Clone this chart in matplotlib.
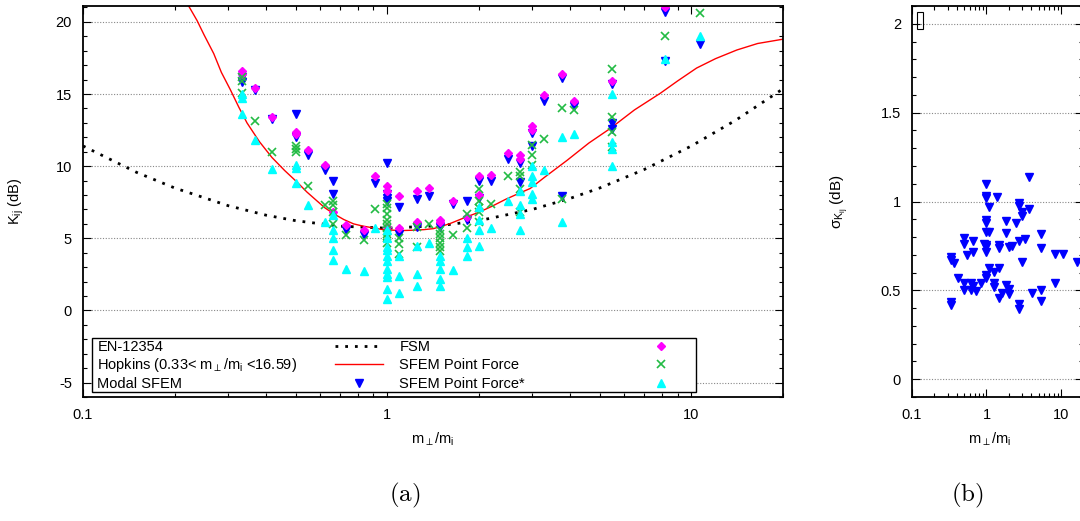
import matplotlib
matplotlib.use("Agg")
import matplotlib.pyplot as plt
from matplotlib.ticker import MultipleLocator, LogLocator, NullFormatter, FixedLocator
from matplotlib.patches import Rectangle

plt.rcParams['font.family'] = ['Liberation Sans', 'DejaVu Sans']
plt.rcParams['mathtext.fontset'] = 'custom'
plt.rcParams['mathtext.rm'] = 'Liberation Sans'
plt.rcParams['mathtext.it'] = 'Liberation Sans'
plt.rcParams['mathtext.bf'] = 'Liberation Sans:bold'
plt.rcParams['axes.unicode_minus'] = False

# ---- data ----
# EN-12354 curve (m_perp/m_i, K_ij dB)
en_x = [0.1, 0.15, 0.2, 0.3, 0.4, 0.5, 0.7, 1.0, 1.5, 2.0, 3.0, 4.0, 5.0, 7.0, 10.0, 14.0, 20.0]
en_k = [11.4, 9.57, 8.49, 7.26, 6.60, 6.22, 5.84, 5.70, 5.88, 6.22, 7.00, 7.77, 8.49, 9.77, 11.4, 13.19, 15.36]

# Hopkins curve
hop_x = [0.2225, 0.237, 0.25, 0.269, 0.285, 0.305, 0.325, 0.346, 0.38, 0.418, 0.46, 0.505,
         0.545, 0.587, 0.625, 0.667, 0.72, 0.775, 0.83, 0.90, 0.97, 1.05, 1.13, 1.22, 1.32,
         1.42, 1.6, 1.83, 2.0, 2.2, 2.45, 2.7, 2.95, 3.3, 3.9, 4.6, 5.4, 6.5, 7.9, 9.0,
         10.4, 12.0, 14.1, 16.5, 20.0]
hop_k = [21.1, 20.1, 19.1, 17.8, 16.5, 15.3, 14.1, 13.0, 11.7, 10.6, 9.7, 8.9,
         8.2, 7.6, 7.1, 6.7, 6.3, 6.0, 5.85, 5.72, 5.6, 5.56, 5.54, 5.56, 5.6,
         5.67, 6.0, 6.5, 6.8, 7.2, 7.7, 8.1, 8.45, 9.25, 10.4, 11.6, 12.6, 13.9, 15.05, 15.9,
         16.8, 17.45, 18.05, 18.5, 18.8]

# scatter series: mass ratio -> K_ij values (dB)
modal = {0.333: [16.2, 15.8], 0.367: [15.3], 0.418: [13.3], 0.5: [13.6, 12.0], 0.55: [10.8],
         0.626: [9.7], 0.663: [9.0, 8.1], 0.732: [5.6], 0.836: [5.2], 0.913: [8.8],
         1.0: [10.2, 8.1, 7.8, 7.6], 1.097: [7.2, 5.3], 1.25: [7.7, 5.8], 1.37: [7.9],
         1.49: [5.8], 1.64: [7.4], 1.83: [7.6, 6.3], 2.0: [9.0, 7.8], 2.2: [9.0], 2.5: [10.5],
         2.73: [10.2, 8.9], 3.0: [12.3, 11.4], 3.28: [14.5], 3.75: [16.1, 7.9], 4.11: [14.2],
         5.47: [15.7, 13.0, 12.6], 8.2: [20.7, 17.3], 10.7: [18.5]}

fsm = {0.333: [16.6, 16.4], 0.367: [15.4], 0.418: [13.4], 0.5: [12.4, 12.2], 0.55: [11.1],
       0.626: [10.1], 0.663: [6.8], 0.732: [5.9], 0.836: [5.6], 0.913: [9.3],
       1.0: [8.6, 8.3, 5.8], 1.097: [7.9, 5.7], 1.25: [8.3, 6.1], 1.37: [8.5], 1.49: [6.3, 6.1],
       1.64: [7.6], 1.83: [6.5], 2.0: [9.3, 8.0], 2.2: [9.4], 2.5: [10.9], 2.73: [10.8, 10.5],
       3.0: [12.8, 12.5], 3.28: [14.9], 3.75: [16.4], 4.11: [14.5], 5.47: [15.9], 8.2: [21.0]}

sfem_pf = {0.333: [16.2, 15.9, 15.1], 0.367: [13.1], 0.418: [11.0], 0.5: [11.4, 11.2, 11.0],
           0.55: [8.6], 0.626: [7.3], 0.663: [7.6, 7.3, 6.8, 6.0], 0.732: [5.2], 0.836: [4.9],
           0.913: [7.0], 1.0: [7.4, 7.1, 6.7, 6.3, 6.0, 5.7, 5.3, 5.0, 4.7],
           1.097: [5.0, 4.6, 3.9], 1.25: [5.8, 4.4], 1.37: [6.0],
           1.49: [5.6, 5.3, 5.0, 4.7, 4.4, 4.1], 1.64: [5.2], 1.83: [6.7, 5.7],
           2.0: [8.4, 7.6, 7.1, 6.8, 6.1], 2.2: [7.4], 2.5: [9.3], 2.73: [9.6, 9.3, 8.4, 6.8],
           3.0: [11.5, 10.8, 10.1], 3.28: [11.9], 3.75: [14.0, 7.7], 4.11: [13.9],
           5.47: [16.7, 13.4, 12.4, 11.3], 8.2: [19.0], 10.7: [20.6]}

sfem_pf_star = {0.333: [15.0, 14.7, 13.6], 0.367: [11.8], 0.418: [9.8], 0.5: [10.1, 9.9, 8.8],
                0.55: [7.3], 0.626: [6.1], 0.663: [6.6, 5.6, 5.0, 4.2, 3.5], 0.732: [2.9],
                0.836: [2.7], 0.913: [5.7],
                1.0: [5.6, 5.0, 4.4, 4.2, 3.8, 3.4, 2.9, 2.5, 2.3, 1.5, 0.8],
                1.097: [3.8, 2.4, 1.2], 1.25: [4.5, 2.5, 1.7], 1.37: [4.7],
                1.49: [3.8, 3.4, 2.9, 2.2, 1.7], 1.64: [2.8], 1.83: [5.0, 4.4, 3.8],
                2.0: [7.2, 6.3, 5.6, 4.5], 2.2: [5.7], 2.5: [7.6], 2.73: [8.3, 7.3, 6.7, 5.6],
                3.0: [10.0, 9.3, 8.9, 8.1, 7.7], 3.28: [9.7], 3.75: [12.0, 6.1], 4.11: [12.2],
                5.47: [15.0, 11.7, 11.2, 10.0], 8.2: [17.4], 10.7: [19.0]}

# standard deviation of K_ij, Modal SFEM (panel b)
sigma = {0.333: [0.69, 0.67, 0.435, 0.417], 0.367: [0.652], 0.418: [0.567],
         0.5: [0.796, 0.762, 0.539, 0.501], 0.55: [0.70], 0.626: [0.50, 0.539],
         0.663: [0.779, 0.717, 0.524], 0.732: [0.496], 0.836: [0.543], 0.913: [0.76],
         1.0: [1.099, 1.031, 1.018, 0.896, 0.877, 0.83, 0.755, 0.742, 0.717, 0.586, 0.567],
         1.097: [0.967, 0.83, 0.624], 1.25: [0.605, 0.539, 0.517], 1.37: [1.027],
         1.49: [0.755, 0.74, 0.624, 0.455], 1.64: [0.483], 1.83: [0.89, 0.824, 0.53],
         2.0: [0.742, 0.505, 0.479], 2.2: [0.749], 2.5: [0.877],
         2.73: [0.99, 0.976, 0.779, 0.426, 0.393], 3.0: [0.94, 0.92, 0.657], 3.28: [0.787],
         3.75: [1.136, 0.96], 4.11: [0.486], 5.47: [0.817, 0.736, 0.501, 0.441],
         8.2: [0.704, 0.539], 10.7: [0.704], 16.6: [0.661]}

x_ticks = [0.1, 1, 10]
x_ticklabels = ['0.1', '1', '10']
k_ticks = [-5, 0, 5, 10, 15, 20]
s_ticks = [0, 0.5, 1, 1.5, 2]
s_ticklabels = ['0', '0.5', '1', '1.5', '2']

labels = ['EN-12354', r'Hopkins (0.33< m$_{\perp}$/m$_{\rm i}$ <16.59)', 'Modal SFEM',
          'FSM', 'SFEM Point Force', 'SFEM Point Force*']


def flat(d):
    xs, ys = [], []
    for x, vals in d.items():
        xs += [x] * len(vals)
        ys += vals
    return xs, ys


c_blue = '#0000ff'
c_mag = '#ff00ff'
c_green = '#22bb44'
c_cyan = '#00ffff'
c_red = '#ff0000'

fig = plt.figure(figsize=(10.8, 5.21), dpi=100)
ax = fig.add_axes([83 / 1080, 1 - 397 / 521, 700 / 1080, 391 / 521])
ax2 = fig.add_axes([912 / 1080, 1 - 397 / 521, 171.4 / 1080, 391 / 521])


def style(a):
    a.set_xscale('log')
    a.set_xlim(0.1, 20)
    a.xaxis.set_major_locator(FixedLocator(x_ticks))
    a.set_xticklabels(x_ticklabels)
    a.xaxis.set_minor_locator(LogLocator(subs=range(2, 10)))
    a.xaxis.set_minor_formatter(NullFormatter())
    a.tick_params(which='both', direction='in', top=True, right=True, labelsize=10.5, pad=8)
    a.tick_params(which='major', length=6, width=0.8)
    a.tick_params(which='minor', length=3, width=0.8)
    a.yaxis.grid(True, which='major', linestyle=(0, (1, 1.5)), color='#888888', lw=0.8)
    a.set_axisbelow(True)
    for s in a.spines.values():
        s.set_linewidth(1.3)


# ---- panel (a) ----
style(ax)
ax.set_ylim(-6, 21.1)
ax.set_yticks(k_ticks)
ax.yaxis.set_minor_locator(MultipleLocator(1))

ax.plot(en_x, en_k, color='black', linestyle=(0, (1, 2.5)), lw=2)
ax.plot(hop_x, hop_k, color=c_red, lw=1)
mx, my = flat(modal)
ax.plot(mx, my, 'v', color=c_blue, ms=5.5, ls='none')
fx, fy = flat(fsm)
ax.plot(fx, fy, 'D', color=c_mag, ms=4, ls='none')
px, py = flat(sfem_pf)
ax.plot(px, py, 'x', color=c_green, ms=6, mew=1.2, ls='none')
sx, sy = flat(sfem_pf_star)
ax.plot(sx, sy, '^', color=c_cyan, ms=5.5, ls='none')

ax.set_xlabel(r'm$_{\perp}$/m$_{\rm i}$', fontsize=10.5)
ax.xaxis.set_label_coords(0.5, -0.085)
ax.set_ylabel(r'K$_{\rm ij}$ (dB)', fontsize=10.5)
ax.yaxis.set_label_coords(-0.081, 0.5)

# gnuplot-style key: text left, sample right
tr = ax.transAxes
ax.add_patch(Rectangle((0.0133, 0.0136), 0.8617, 0.1364, transform=tr,
                       facecolor='white', edgecolor='black', lw=1, zorder=5))
rows_txt = [0.1176, 0.0708, 0.0240]
rows_mid = [0.1304, 0.0836, 0.0368]
for i in range(3):
    ax.text(0.0204, rows_txt[i], labels[i], transform=tr, fontsize=10.5, zorder=6)
    ax.text(0.4519, rows_txt[i], labels[i + 3], transform=tr, fontsize=10.5, zorder=6)
ax.plot([0.36, 0.4286], [rows_mid[0]] * 2, transform=tr, color='black',
        linestyle=(0, (1, 2.5)), lw=2, zorder=6, clip_on=False)
ax.plot([0.36, 0.4286], [rows_mid[1]] * 2, transform=tr, color=c_red, lw=1, zorder=6)
ax.plot([0.3947], [rows_mid[2]], 'v', transform=tr, color=c_blue, ms=5.5, zorder=6)
ax.plot([0.8257], [rows_mid[0]], 'D', transform=tr, color=c_mag, ms=4, zorder=6)
ax.plot([0.8257], [rows_mid[1]], 'x', transform=tr, color=c_green, ms=6, mew=1.2, zorder=6)
ax.plot([0.8257], [rows_mid[2]], '^', transform=tr, color=c_cyan, ms=5.5, zorder=6)

# ---- panel (b) ----
style(ax2)
ax2.set_ylim(-0.1, 2.1)
ax2.set_yticks(s_ticks)
ax2.set_yticklabels(s_ticklabels)
ax2.yaxis.set_minor_locator(MultipleLocator(0.1))
gx, gy = flat(sigma)
ax2.plot(gx, gy, 'v', color=c_blue, ms=5.5, ls='none')
ax2.add_patch(Rectangle((0.029, 0.941), 0.035, 0.0435, transform=ax2.transAxes,
                        fill=False, edgecolor='black', lw=0.8))
ax2.set_xlabel(r'm$_{\perp}$/m$_{\rm i}$', fontsize=10.5)
ax2.xaxis.set_label_coords(0.455, -0.085)
ax2.set_ylabel(r'$\sigma_{\mathrm{K}_{\mathrm{ij}}}$ (dB)', fontsize=11)
ax2.yaxis.set_label_coords(-0.36, 0.5)

fig.text(405 / 1080, 1 - 495 / 521, r'$\mathrm{(a)}$', math_fontfamily='cm',
         fontsize=18, ha='center', va='center')
fig.text(967 / 1080, 1 - 495 / 521, r'$\mathrm{(b)}$', math_fontfamily='cm',
         fontsize=18, ha='center', va='center')

fig.savefig('out.png', dpi=100)
